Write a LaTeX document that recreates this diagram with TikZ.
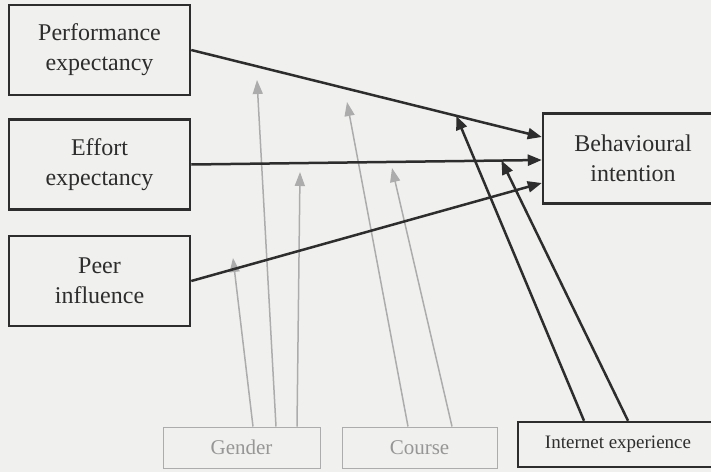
\documentclass[tikz,border=0pt]{standalone}
\usepackage{fontspec}
\setmainfont{Liberation Serif}
\usetikzlibrary{arrows.meta, positioning, calc}
\definecolor{paper}{RGB}{240,240,238}
\definecolor{ink}{RGB}{45,45,45}
\definecolor{faint}{RGB}{172,172,172}
\definecolor{fainttext}{RGB}{150,150,150}
\tikzset{
    construct/.style={draw=ink, line width=2.5pt, text=ink, align=center, inner sep=0pt,
        font=\fontsize{24}{30}\selectfont, minimum width=181pt, minimum height=90pt}
}

\begin{document}
\begin{tikzpicture}[
    x=1pt, y=-1pt,
    moderator/.style={draw=faint, line width=1pt, text=fainttext, inner sep=0pt,
        font=\fontsize{21}{25}\selectfont, minimum width=157pt, minimum height=41pt},
    arrow/.style={-{Triangle[length=14pt, width=11pt]}, ink, line width=2.5pt},
    grayarrow/.style={-{Triangle[length=14pt, width=10pt]}, faint, line width=1.5pt},
    node distance=22pt and 0pt
]

% page
\fill[paper] (0,0) rectangle (711,472);
\useasboundingbox (0,0) rectangle (711,472);

% Predictors on the left
\node[construct] (perf) at (99.5,50) {Performance\\expectancy};
\node[construct, below=of perf] (effort) {Effort\\expectancy};
\node[construct, below=24pt of effort] (peer) {Peer\\influence};

% Outcome
\node[construct, minimum width=180pt] (intent) at (633,158.5) {Behavioural\\intention};

% Moderators at the bottom
\node[moderator] (gender) at (241.5,447.5) {Gender};
\node[moderator, minimum width=155pt] (course) at (419.5,447.5) {Course};
\node[construct, minimum width=200pt, minimum height=45pt,
      font=\fontsize{19}{23}\selectfont] (net) at (618,444.5) {Internet experience};

% where the gray arrows stop
\coordinate (pe-gender) at (257,80);
\coordinate (ee-gender) at (300,172);
\coordinate (pi-gender) at (233,258);
\coordinate (pe-course) at (347,102);
\coordinate (ee-course) at (392,168);

% Gender and course effects
\draw[grayarrow] ([xshift=11.5pt]gender.north) -- (pi-gender);
\draw[grayarrow] ([xshift=34.5pt]gender.north) -- (pe-gender);
\draw[grayarrow] ([xshift=55.5pt]gender.north) -- (ee-gender);
\draw[grayarrow] ([xshift=-11.5pt]course.north) -- (pe-course);
\draw[grayarrow] ([xshift=32.5pt]course.north) -- (ee-course);

% Direct paths
\draw[arrow] (perf.east) -- coordinate[pos=0.756] (pe-net) ([yshift=21.5pt]intent.west);
\draw[arrow] (effort.east) -- coordinate[pos=0.885] (ee-net) ([yshift=-1.5pt]intent.west);
\draw[arrow] (peer.east) -- ([yshift=-24.5pt]intent.west);

% Internet experience effects
\draw[arrow] ([xshift=-34pt]net.north) -- (pe-net);
\draw[arrow] ([xshift=10pt]net.north) -- (ee-net);

\end{tikzpicture}
\end{document}
